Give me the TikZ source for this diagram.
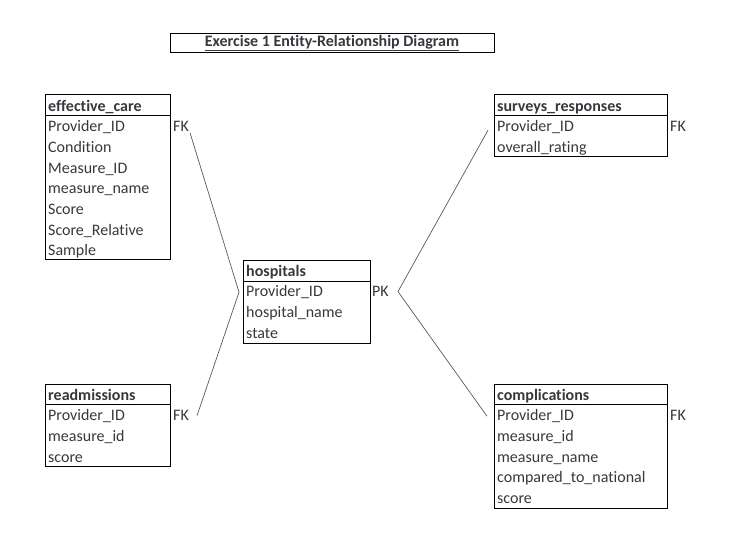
\documentclass[tikz,border=0pt]{standalone}
\usepackage{fontspec}
\setmainfont{Carlito}[Ligatures=NoCommon]
\usetikzlibrary{positioning}
\definecolor{txtgray}{RGB}{55,55,62}
\newcommand\tblfont{\fontsize{16}{19}\selectfont}
\tikzset{
  tbox/.style={draw=black, line width=1pt},
  hdr/.style={anchor=base west, font=\tblfont\bfseries, text=txtgray, inner sep=0pt},
  fld/.style={anchor=base west, font=\tblfont, text=txtgray, inner sep=0pt},
  keylbl/.style={anchor=base west, font=\tblfont, text=txtgray, inner sep=1pt},
  link/.style={draw=black!65, line width=0.7pt}
}
\begin{document}
\begin{tikzpicture}[x=1pt, y=-1pt]
        \useasboundingbox (0,0) rectangle (754,555);

        % Title
        \draw[tbox] (170,33) rectangle (494,52);
        \node[font=\tblfont\bfseries, text=txtgray, inner sep=0pt] (title) at (332,42.8) {\underline{Exercise 1 Entity-Relationship Diagram}};

        % effective_care
        \draw[tbox] (45,94) rectangle (170,259);
        \draw[tbox] (45,115) -- (170,115);
        \node[hdr] (ec) at (48,111) {effective\_care};
        \foreach \f [count=\i] in {Provider\_ID, Condition, Measure\_ID, measure\_name, Score, Score\_Relative, Sample}
            \node[fld] (ec-\i) at (48,111+20.7*\i) {\f};
        \node[keylbl] (fkec) at (172,131.7) {FK};

        % readmissions
        \draw[tbox] (45,384) rectangle (170,466);
        \draw[tbox] (45,404) -- (170,404);
        \node[hdr] (rd) at (48,400) {readmissions};
        \foreach \f [count=\i] in {Provider\_ID, measure\_id, score}
            \node[fld] (rd-\i) at (48,400+20.7*\i) {\f};
        \node[keylbl] (fkrd) at (172,420.7) {FK};

        % hospitals
        \draw[tbox] (243,260) rectangle (370,343);
        \draw[tbox] (243,281) -- (370,281);
        \node[hdr] (hp) at (246,276) {hospitals};
        \foreach \f [count=\i] in {Provider\_ID, hospital\_name, state}
            \node[fld] (hp-\i) at (246,276+20.7*\i) {\f};
        \node[keylbl] (pkhp) at (371,296.7) {PK};

        % surveys_responses
        \draw[tbox] (494,94) rectangle (667,156);
        \draw[tbox] (494,115) -- (667,115);
        \node[hdr] (sr) at (497,111) {surveys\_responses};
        \foreach \f [count=\i] in {Provider\_ID, overall\_rating}
            \node[fld] (sr-\i) at (497,111+20.7*\i) {\f};
        \node[keylbl] (fksr) at (669,131.7) {FK};

        % complications
        \draw[tbox] (494,384) rectangle (667,508);
        \draw[tbox] (494,404) -- (667,404);
        \node[hdr] (cp) at (497,400) {complications};
        \foreach \f [count=\i] in {Provider\_ID, measure\_id, measure\_name, compared\_to\_national, score}
            \node[fld] (cp-\i) at (497,400+20.7*\i) {\f};
        \node[keylbl] (fkcp) at (669,420.7) {FK};

        % Relationships
        \draw[link] (fkec.south east) -- ([xshift=-7pt]hp-1.west) -- ([xshift=7pt]fkrd.east);
        \draw[link] ([xshift=-9pt, yshift=-3pt]sr-1.west) -- ([xshift=8pt]pkhp.east) -- ([xshift=-10pt]cp-1.west);
    \end{tikzpicture}
\end{document}
